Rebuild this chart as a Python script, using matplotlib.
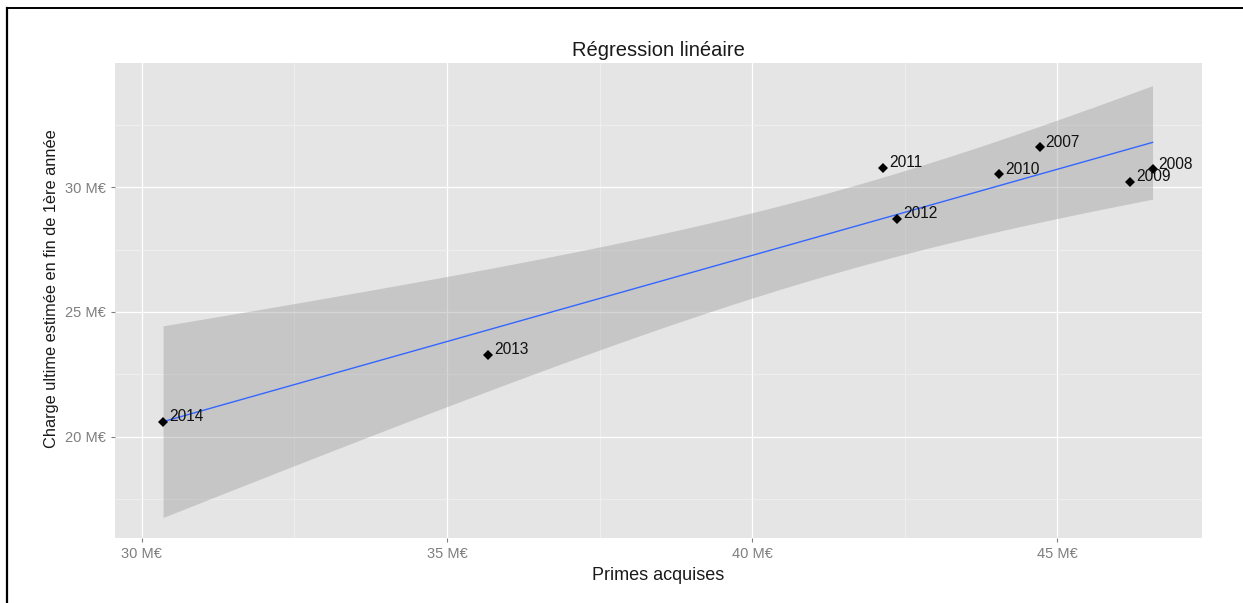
import numpy as np
import matplotlib
matplotlib.use("Agg")
import matplotlib.pyplot as plt
from matplotlib.lines import Line2D
from matplotlib.ticker import FixedLocator, FuncFormatter

plt.rcParams["font.family"] = ["Liberation Sans", "DejaVu Sans"]

# Earned premiums and estimated ultimate loss at end of first year (M€)
years = ["2007", "2008", "2009", "2010", "2011", "2012", "2013", "2014"]
primes = [44.71, 46.56, 46.19, 44.05, 42.15, 42.37, 35.67, 30.35]
charges = [31.60, 30.73, 30.21, 30.52, 30.79, 28.73, 23.28, 20.60]

x_ticks = [30, 35, 40, 45]
y_ticks = [20, 25, 30]
x_minor = [32.5, 37.5, 42.5]
y_minor = [17.5, 22.5, 27.5, 32.5]

# Ordinary least squares fit with a 99 % confidence band
level_t = 3.707  # Student t quantile, 0.995, 6 degrees of freedom
x = np.asarray(primes)
y = np.asarray(charges)
n = len(x)
slope, intercept = np.polyfit(x, y, 1)
resid = y - (intercept + slope * x)
s = np.sqrt(np.sum(resid ** 2) / (n - 2))
sxx = np.sum((x - x.mean()) ** 2)
xg = np.linspace(x.min(), x.max(), 80)
yg = intercept + slope * xg
se = s * np.sqrt(1.0 / n + (xg - x.mean()) ** 2 / sxx)
lo, hi = yg - level_t * se, yg + level_t * se

W, H = 1243, 603
fig = plt.figure(figsize=(W / 100, H / 100), dpi=100)
ax = fig.add_axes([115 / W, 1 - 538 / H, (1202 - 115) / W, (538 - 63) / H])
ax.set_facecolor("#E5E5E5")
for sp in ax.spines.values():
    sp.set_visible(False)

ax.set_xlim(29.563, 47.37)
ax.set_ylim(15.94, 34.98)

ax.xaxis.set_major_locator(FixedLocator(x_ticks))
ax.yaxis.set_major_locator(FixedLocator(y_ticks))
ax.xaxis.set_minor_locator(FixedLocator(x_minor))
ax.yaxis.set_minor_locator(FixedLocator(y_minor))
fmt = FuncFormatter(lambda v, p: f"{v:g} M€")
ax.xaxis.set_major_formatter(fmt)
ax.yaxis.set_major_formatter(fmt)
ax.grid(which="major", color="white", linewidth=0.9)
ax.grid(which="minor", color="#F2F2F2", linewidth=0.5)
ax.set_axisbelow(True)
ax.tick_params(which="major", length=3.2, width=0.8, color="#7F7F7F",
               labelcolor="#7F7F7F", labelsize=10.5, pad=3.5)
ax.tick_params(which="minor", length=0)

ax.fill_between(xg, lo, hi, color="#999999", alpha=0.4, linewidth=0, zorder=2)
ax.plot(xg, yg, color="#3366FF", linewidth=1.0, zorder=3)
ax.plot(x, y, linestyle="none", marker="D", markersize=5.5, color="black",
        markeredgewidth=0, zorder=4)
for xi, yi, lab in zip(primes, charges, years):
    ax.annotate(lab, (xi, yi), xytext=(4.3, 3.6), textcoords="offset points",
                ha="left", va="center", fontsize=11.2, color="#111111", zorder=5)

fig.text(658.5 / W, 1 - 50.5 / H, "Régression linéaire", ha="center",
         va="center", fontsize=14.5, color="#1A1A1A")
fig.text(658.5 / W, 1 - 576 / H, "Primes acquises", ha="center", va="center",
         fontsize=13, color="#1A1A1A")
fig.text(51.7 / W, 1 - 288.5 / H, "Charge ultime estimée en fin de 1ère année",
         ha="center", va="center", rotation=90, fontsize=11.8, color="#1A1A1A")

# page frame lines
fig.add_artist(Line2D([7 / W, 1.0], [1 - 7.5 / H, 1 - 7.5 / H], color="black",
                      linewidth=1.4, transform=fig.transFigure))
fig.add_artist(Line2D([7 / W, 7 / W], [1 - 7.5 / H, 0.0], color="black",
                      linewidth=1.6, transform=fig.transFigure))

fig.savefig("out.png", dpi=100)
